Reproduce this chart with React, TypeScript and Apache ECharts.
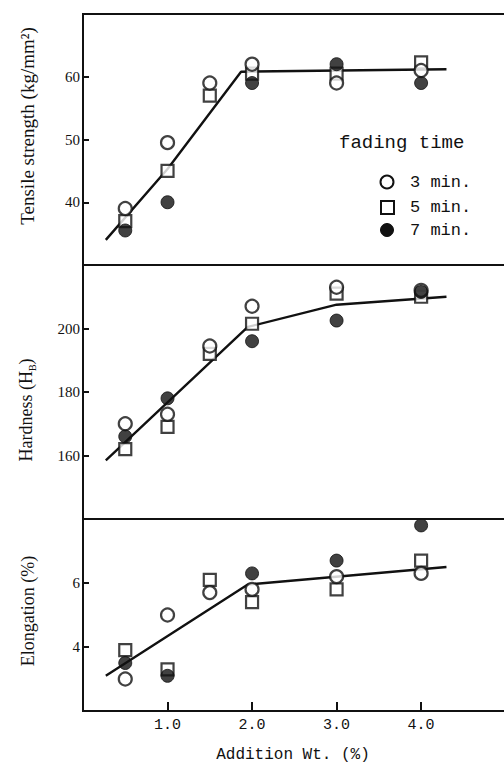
import React, { useEffect, useRef } from "react";
import * as echarts from "echarts";

// Addition Wt. (%) for each measured sample
const xs = [0.5, 1.0, 1.5, 2.0, 3.0, 4.0];

// Tensile strength (kg/mm²)
const tensile3 = [39, 49.5, 59, 62, 59, 61];
const tensile5 = [37, 45, 57, 60.5, 60.5, 62.3];
const tensile7 = [35.5, 40, null, 59, 62, 59];
const tensileFitX = [0.27, 1.0, 1.87, 4.3];
const tensileFitY = [34, 45.3, 60.8, 61.2];

// Hardness (HB)
const hardness3 = [170, 173, 194.5, 207, 213, 212];
const hardness5 = [162, 169, 192, 201.5, 211, 210];
const hardness7 = [166, 178, null, 196, 202.5, 211.5];
const hardnessFitX = [0.27, 1.95, 3.0, 4.3];
const hardnessFitY = [158.5, 200.5, 207.5, 210];

// Elongation (%)
const elong3 = [3.0, 5.0, 5.7, 5.8, 6.2, 6.3];
const elong5 = [3.9, 3.3, 6.1, 5.4, 5.8, 6.7];
const elong7 = [3.5, 3.1, null, 6.3, 6.7, 7.8];
const elongFitX = [0.27, 1.95, 4.3];
const elongFitY = [3.1, 5.95, 6.5];

const legendTitle = "fading time";
const legendNames = ["3 min.", "5 min.", "7 min."];
const xTitle = "Addition Wt. (%)";

const INK = "#111";

const pairs = (x: number[], y: (number | null)[]) =>
  x.map((v, i) => [v, y[i]]).filter((p) => p[1] !== null);

export default function App() {
  const ref = useRef<HTMLDivElement>(null);
  useEffect(() => {
    if (!ref.current) return;
    const chart = echarts.init(ref.current, null, { renderer: "svg" });

    const grids = [
      { left: 83, top: 14, width: 448, height: 251 },
      { left: 83, top: 265, width: 448, height: 254 },
      { left: 83, top: 519, width: 448, height: 192 },
    ].map((g) => ({
      ...g,
      show: true,
      borderColor: INK,
      borderWidth: 2,
      backgroundColor: "transparent",
      containLabel: false,
      outerBoundsMode: "none",
    }));

    const yRanges = [
      { min: 30, max: 70, interval: 10 },
      { min: 140, max: 220, interval: 20 },
      { min: 2, max: 8, interval: 2 },
    ];

    const xAxis = [0, 1, 2].map((i) => ({
      type: "value",
      gridIndex: i,
      min: 0,
      max: 5.3,
      interval: 1,
      axisLine: { show: true, onZero: false, lineStyle: { color: INK, width: 2 } },
      axisTick: { show: i === 2, inside: true, length: 9, lineStyle: { color: INK, width: 2 } },
      axisLabel: {
        show: i === 2,
        showMinLabel: false,
        showMaxLabel: false,
        formatter: (v: number) => (v >= 1 && v <= 4 ? v.toFixed(1) : ""),
        fontFamily: "Liberation Mono",
        fontSize: 15,
        color: INK,
        margin: 7,
      },
      splitLine: { show: false },
    }));

    const yAxis = yRanges.map((r, i) => ({
      type: "value",
      gridIndex: i,
      ...r,
      axisLine: { show: true, onZero: false, lineStyle: { color: INK, width: 2 } },
      axisTick: { show: true, inside: true, length: 6, lineStyle: { color: INK, width: 2 } },
      axisLabel: {
        showMinLabel: false,
        showMaxLabel: false,
        fontFamily: "Liberation Serif",
        fontSize: 15,
        color: INK,
        margin: 3,
      },
      splitLine: { show: false },
    }));

    const hollow = { color: "#fff", borderColor: INK, borderWidth: 2.2 };
    const filled = { color: INK, borderColor: INK, borderWidth: 1 };

    const panels = [
      { s3: tensile3, s5: tensile5, s7: tensile7, fx: tensileFitX, fy: tensileFitY },
      { s3: hardness3, s5: hardness5, s7: hardness7, fx: hardnessFitX, fy: hardnessFitY },
      { s3: elong3, s5: elong5, s7: elong7, fx: elongFitX, fy: elongFitY },
    ];

    const series: any[] = [];
    panels.forEach((p, i) => {
      series.push({
        type: "line",
        xAxisIndex: i,
        yAxisIndex: i,
        data: pairs(p.fx, p.fy),
        showSymbol: false,
        symbol: "none",
        lineStyle: { color: INK, width: 2.4 },
        z: 2,
        silent: true,
      });
      series.push({
        type: "scatter",
        name: legendNames[1],
        xAxisIndex: i,
        yAxisIndex: i,
        data: pairs(xs, p.s5),
        symbol: "rect",
        symbolSize: 12,
        itemStyle: hollow,
        z: 3,
      });
      series.push({
        type: "scatter",
        name: legendNames[0],
        xAxisIndex: i,
        yAxisIndex: i,
        data: pairs(xs, p.s3),
        symbol: "circle",
        symbolSize: 13,
        itemStyle: hollow,
        z: 3,
      });
      series.push({
        type: "scatter",
        name: legendNames[2],
        xAxisIndex: i,
        yAxisIndex: i,
        data: pairs(xs, p.s7),
        symbol: "circle",
        symbolSize: 13,
        itemStyle: filled,
        z: 3,
      });
    });

    const serif = "Liberation Serif";
    const mono = "Liberation Mono";

    const graphic: any[] = [
      {
        type: "text",
        x: 27,
        y: 126,
        rotation: Math.PI / 2,
        style: {
          text: "Tensile strength (kg/mm²)",
          fontFamily: serif,
          fontSize: 19,
          fill: INK,
          align: "center",
          verticalAlign: "middle",
        },
      },
      {
        type: "text",
        x: 26,
        y: 410,
        rotation: Math.PI / 2,
        style: {
          text: "{a|Hardness (H}{b|B}{a|)}",
          fontFamily: serif,
          fill: INK,
          align: "center",
          verticalAlign: "middle",
          rich: {
            a: { fontFamily: serif, fontSize: 18, fill: INK, lineHeight: 22 },
            b: { fontFamily: serif, fontSize: 10, fill: INK, lineHeight: 22, verticalAlign: "bottom" },
          },
        },
      },
      {
        type: "text",
        x: 28,
        y: 611,
        rotation: Math.PI / 2,
        style: {
          text: "Elongation (%)",
          fontFamily: serif,
          fontSize: 18,
          fill: INK,
          align: "center",
          verticalAlign: "middle",
        },
      },
      {
        type: "text",
        x: 293,
        y: 755,
        style: {
          text: xTitle,
          fontFamily: mono,
          fontSize: 16,
          fill: INK,
          align: "center",
          verticalAlign: "middle",
        },
      },
      {
        type: "text",
        x: 339,
        y: 143,
        style: { text: legendTitle, fontFamily: mono, fontSize: 19, fill: INK, verticalAlign: "middle" },
      },
      {
        type: "circle",
        shape: { cx: 387, cy: 182, r: 6.5 },
        style: { fill: "#fff", stroke: INK, lineWidth: 2 },
      },
      {
        type: "text",
        x: 410,
        y: 182,
        style: { text: legendNames[0], fontFamily: mono, fontSize: 17, fill: INK, verticalAlign: "middle" },
      },
      {
        type: "rect",
        shape: { x: 381, y: 201, width: 13, height: 13 },
        style: { fill: "#fff", stroke: INK, lineWidth: 2 },
      },
      {
        type: "text",
        x: 410,
        y: 207,
        style: { text: legendNames[1], fontFamily: mono, fontSize: 17, fill: INK, verticalAlign: "middle" },
      },
      {
        type: "circle",
        shape: { cx: 387, cy: 230, r: 6.5 },
        style: { fill: INK, stroke: INK, lineWidth: 1 },
      },
      {
        type: "text",
        x: 410,
        y: 230,
        style: { text: legendNames[2], fontFamily: mono, fontSize: 17, fill: INK, verticalAlign: "middle" },
      },
    ];

    chart.setOption({
      animation: false,
      backgroundColor: "#fff",
      grid: grids,
      xAxis,
      yAxis,
      series,
      graphic,
    });
    return () => chart.dispose();
  }, []);

  return (
    <div
      ref={ref}
      style={{ position: "absolute", left: 0, top: 0, width: 504, height: 766, background: "#fff" }}
    />
  );
}
